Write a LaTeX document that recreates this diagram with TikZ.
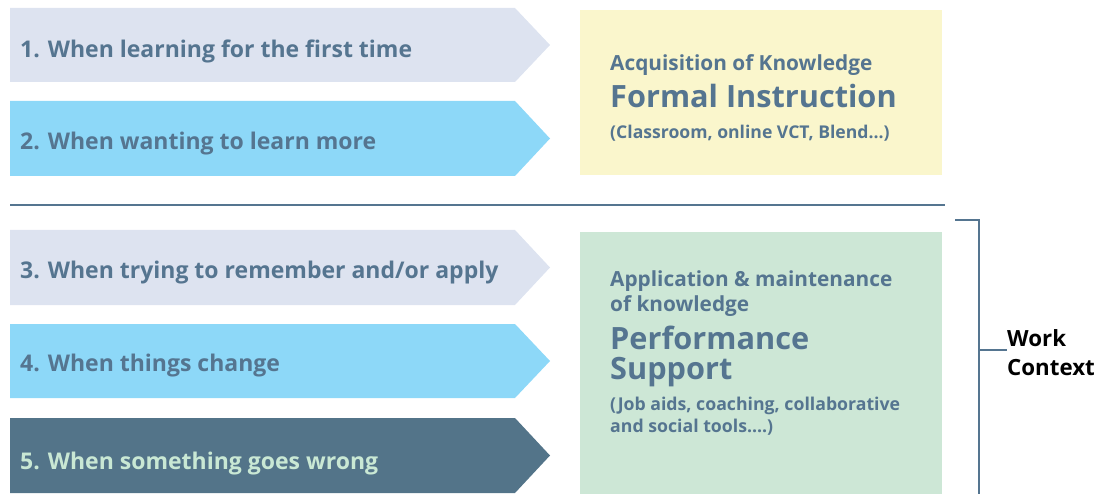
\documentclass[tikz,border=0pt]{standalone}
\usepackage{fontspec}
\setmainfont{Open Sans}
\definecolor{slate}{HTML}{557590}
\definecolor{pale}{HTML}{DDE3F0}
\definecolor{cyanish}{HTML}{8DD8F8}
\definecolor{dark}{HTML}{537489}
\definecolor{mint}{HTML}{C9E8D4}
\definecolor{yellowbox}{HTML}{FAF6CC}
\definecolor{greenbox}{HTML}{CDE7D6}
\tikzset{
  arrowlabel/.style={anchor=base west, inner sep=0pt, font=\fontsize{23}{24}\selectfont\bfseries, text=slate},
  boxtext/.style={anchor=base west, inner sep=0pt, text=slate, align=left},
  brk/.style={draw=slate, line width=1.8pt},
}
\newcommand{\chev}[3]{\fill[#1] (10,-#2) -- (515,-#2) -- (550,-#2/2-#3/2) -- (515,-#3) -- (10,-#3) -- cycle;}
\begin{document}
\begin{tikzpicture}[x=1pt,y=1pt]
\useasboundingbox (0,0) rectangle (1105,-494);
% chevrons
\chev{pale}{8}{82}
\chev{cyanish}{101}{176}
\chev{pale}{230}{305}
\chev{cyanish}{324}{398}
\chev{dark}{418}{493}
\node[arrowlabel] (a1) at (20,-58) {1. When learning for the first time};
\node[arrowlabel] (a2) at (20,-150) {2. When wanting to learn more};
\node[arrowlabel] (a3) at (20,-279) {3. When trying to remember and/or apply};
\node[arrowlabel] (a4) at (20,-371) {4. When things change};
\node[arrowlabel, text=mint] (a5) at (20,-469) {5. When something goes wrong};
% separator
\coordinate (s1) at (10,-205);
\coordinate (s2) at (945,-205);
\draw[brk] (s1) -- (s2);
% boxes
\fill[yellowbox] (580,-10) rectangle (942,-175);
\fill[greenbox] (580,-232) rectangle (942,-494);
\node[boxtext, font=\fontsize{20.8}{24}\selectfont\bfseries] (y1) at (610,-71) {Acquisition of Knowledge};
\node[boxtext, font=\fontsize{30.7}{36}\selectfont\bfseries] (y2) at (610,-108) {Formal Instruction};
\node[boxtext, font=\fontsize{17.6}{20}\selectfont\bfseries] (y3) at (610,-139) {(Classroom, online VCT, Blend...)};
\node[boxtext, font=\fontsize{20.8}{24}\selectfont\bfseries] (g1) at (610,-287) {Application \& maintenance};
\node[boxtext, font=\fontsize{20.8}{24}\selectfont\bfseries] (g2) at (610,-311) {of knowledge};
\node[boxtext, font=\fontsize{30.7}{36}\selectfont\bfseries] (g3) at (610,-349) {Performance};
\node[boxtext, font=\fontsize{30.7}{36}\selectfont\bfseries] (g4) at (610,-379) {Support};
\node[boxtext, font=\fontsize{17.7}{20}\selectfont\bfseries] (g5) at (610,-410) {(Job aids, coaching, collaborative};
\node[boxtext, font=\fontsize{17.7}{20}\selectfont\bfseries] (g6) at (610,-432) {and social tools....)};
% bracket
\coordinate (b1) at (955,-220);
\coordinate (b2) at (979,-220);
\coordinate (b3) at (979,-494);
\coordinate (bm) at (979,-350);
\node[anchor=base west, inner sep=0pt, font=\fontsize{22.3}{28}\selectfont\bfseries, text=black] (wc1) at (1007,-346) {Work};
\node[anchor=base west, inner sep=0pt, font=\fontsize{22.3}{28}\selectfont\bfseries, text=black] (wc2) at (1007,-375) {Context};
\draw[brk] (b1) -- (b2) -- (b3);
\draw[brk] (bm) -- (wc1.west |- bm);
\end{tikzpicture}
\end{document}
